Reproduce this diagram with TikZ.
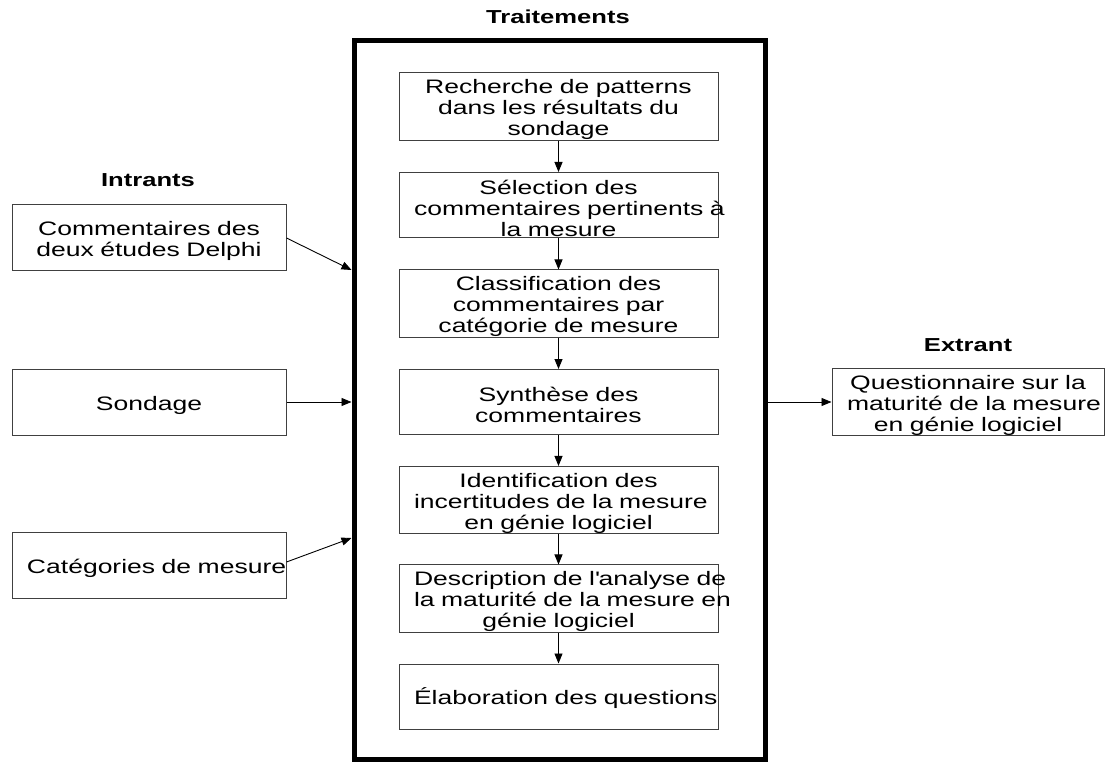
\documentclass[tikz,border=0pt]{standalone}
\usepackage{fontspec}
\setmainfont[FakeStretch=1.36]{Liberation Sans}
\usetikzlibrary{arrows.meta}
\newcommand\Lnx[1]{\par\noindent\hbox to \linewidth{\hfil #1\hfil}\par}
\hbadness=10000 \hfuzz=200pt
\begin{document}
\begin{tikzpicture}[x=1pt,y=-1pt,
  box/.style={draw=black!75, line width=1pt, minimum height=65pt, inner xsep=15pt, inner ysep=0pt, align=center, font=\fontsize{19.5}{21}\selectfont},
  innerbox/.style={box, text width=289pt},
  sidebox/.style={box, text width=244pt},
  head/.style={font=\fontsize{18.8}{20}\selectfont\bfseries},
  arr/.style={-{Triangle[length=10pt,width=8pt]}, line width=0.9pt}
]
\useasboundingbox (0,0) rectangle (1112,762);

% headings
\node[head] (ht) at (558,17) {Traitements};
\node[head] (hi) at (148,180) {Intrants};
\node[head] (he) at (968,345) {Extrant};

% big box
\node[draw, line width=5pt, minimum width=411pt, minimum height=718pt] (trt) at (559.5,400) {};

% inner boxes
\node[innerbox] (b1) at (558.5,106.5) {\Lnx{Recherche de patterns}\Lnx{dans les résultats du}\Lnx{sondage}};
\node[innerbox] (b2) at (558.5,205) {\Lnx{Sélection des}\Lnx{commentaires pertinents à}\Lnx{la mesure}};
\node[innerbox] (b3) at (558.5,303.5) {\Lnx{Classification des}\Lnx{commentaires par}\Lnx{catégorie de mesure}};
\node[innerbox] (b4) at (558.5,402) {\Lnx{Synthèse des}\Lnx{commentaires}};
\node[innerbox] (b5) at (558.5,500) {\Lnx{Identification des}\Lnx{incertitudes de la mesure}\Lnx{en génie logiciel}};
\node[innerbox] (b6) at (558.5,598.5) {\Lnx{Description de l\textquotesingle analyse de}\Lnx{la maturité de la mesure en}\Lnx{génie logiciel}};
\node[innerbox] (b7) at (558.5,696.5) {\Lnx{Élaboration des questions}};

\foreach \a/\b in {b1/b2,b2/b3,b3/b4,b4/b5,b5/b6,b6/b7}
  \draw[arr] (\a) -- (\b);

% inputs
\node[sidebox, minimum height=66pt] (c1) at (149,238) {\Lnx{Commentaires des}\Lnx{deux études Delphi}};
\node[sidebox, minimum height=66pt] (c2) at (149,402) {\Lnx{Sondage}};
\node[sidebox, minimum height=66pt] (c3) at (149,565) {\Lnx{Catégories de mesure}};

\coordinate (t1) at (trt.west |- 0,270);
\coordinate (t3) at (trt.west |- 0,538);
\draw[arr] (c1.east) -- (t1);
\draw[arr] (c2.east) -- (c2.east -| trt.west);
\draw[arr] ([yshift=3pt]c3.east) -- (t3);

% output
\node[box, text width=242pt, minimum height=66pt] (q) at (968,402) {\Lnx{Questionnaire sur la}\Lnx{maturité de la mesure}\Lnx{en génie logiciel}};
\draw[arr] (q.west -| trt.east) -- (q.west);
\end{tikzpicture}
\end{document}
